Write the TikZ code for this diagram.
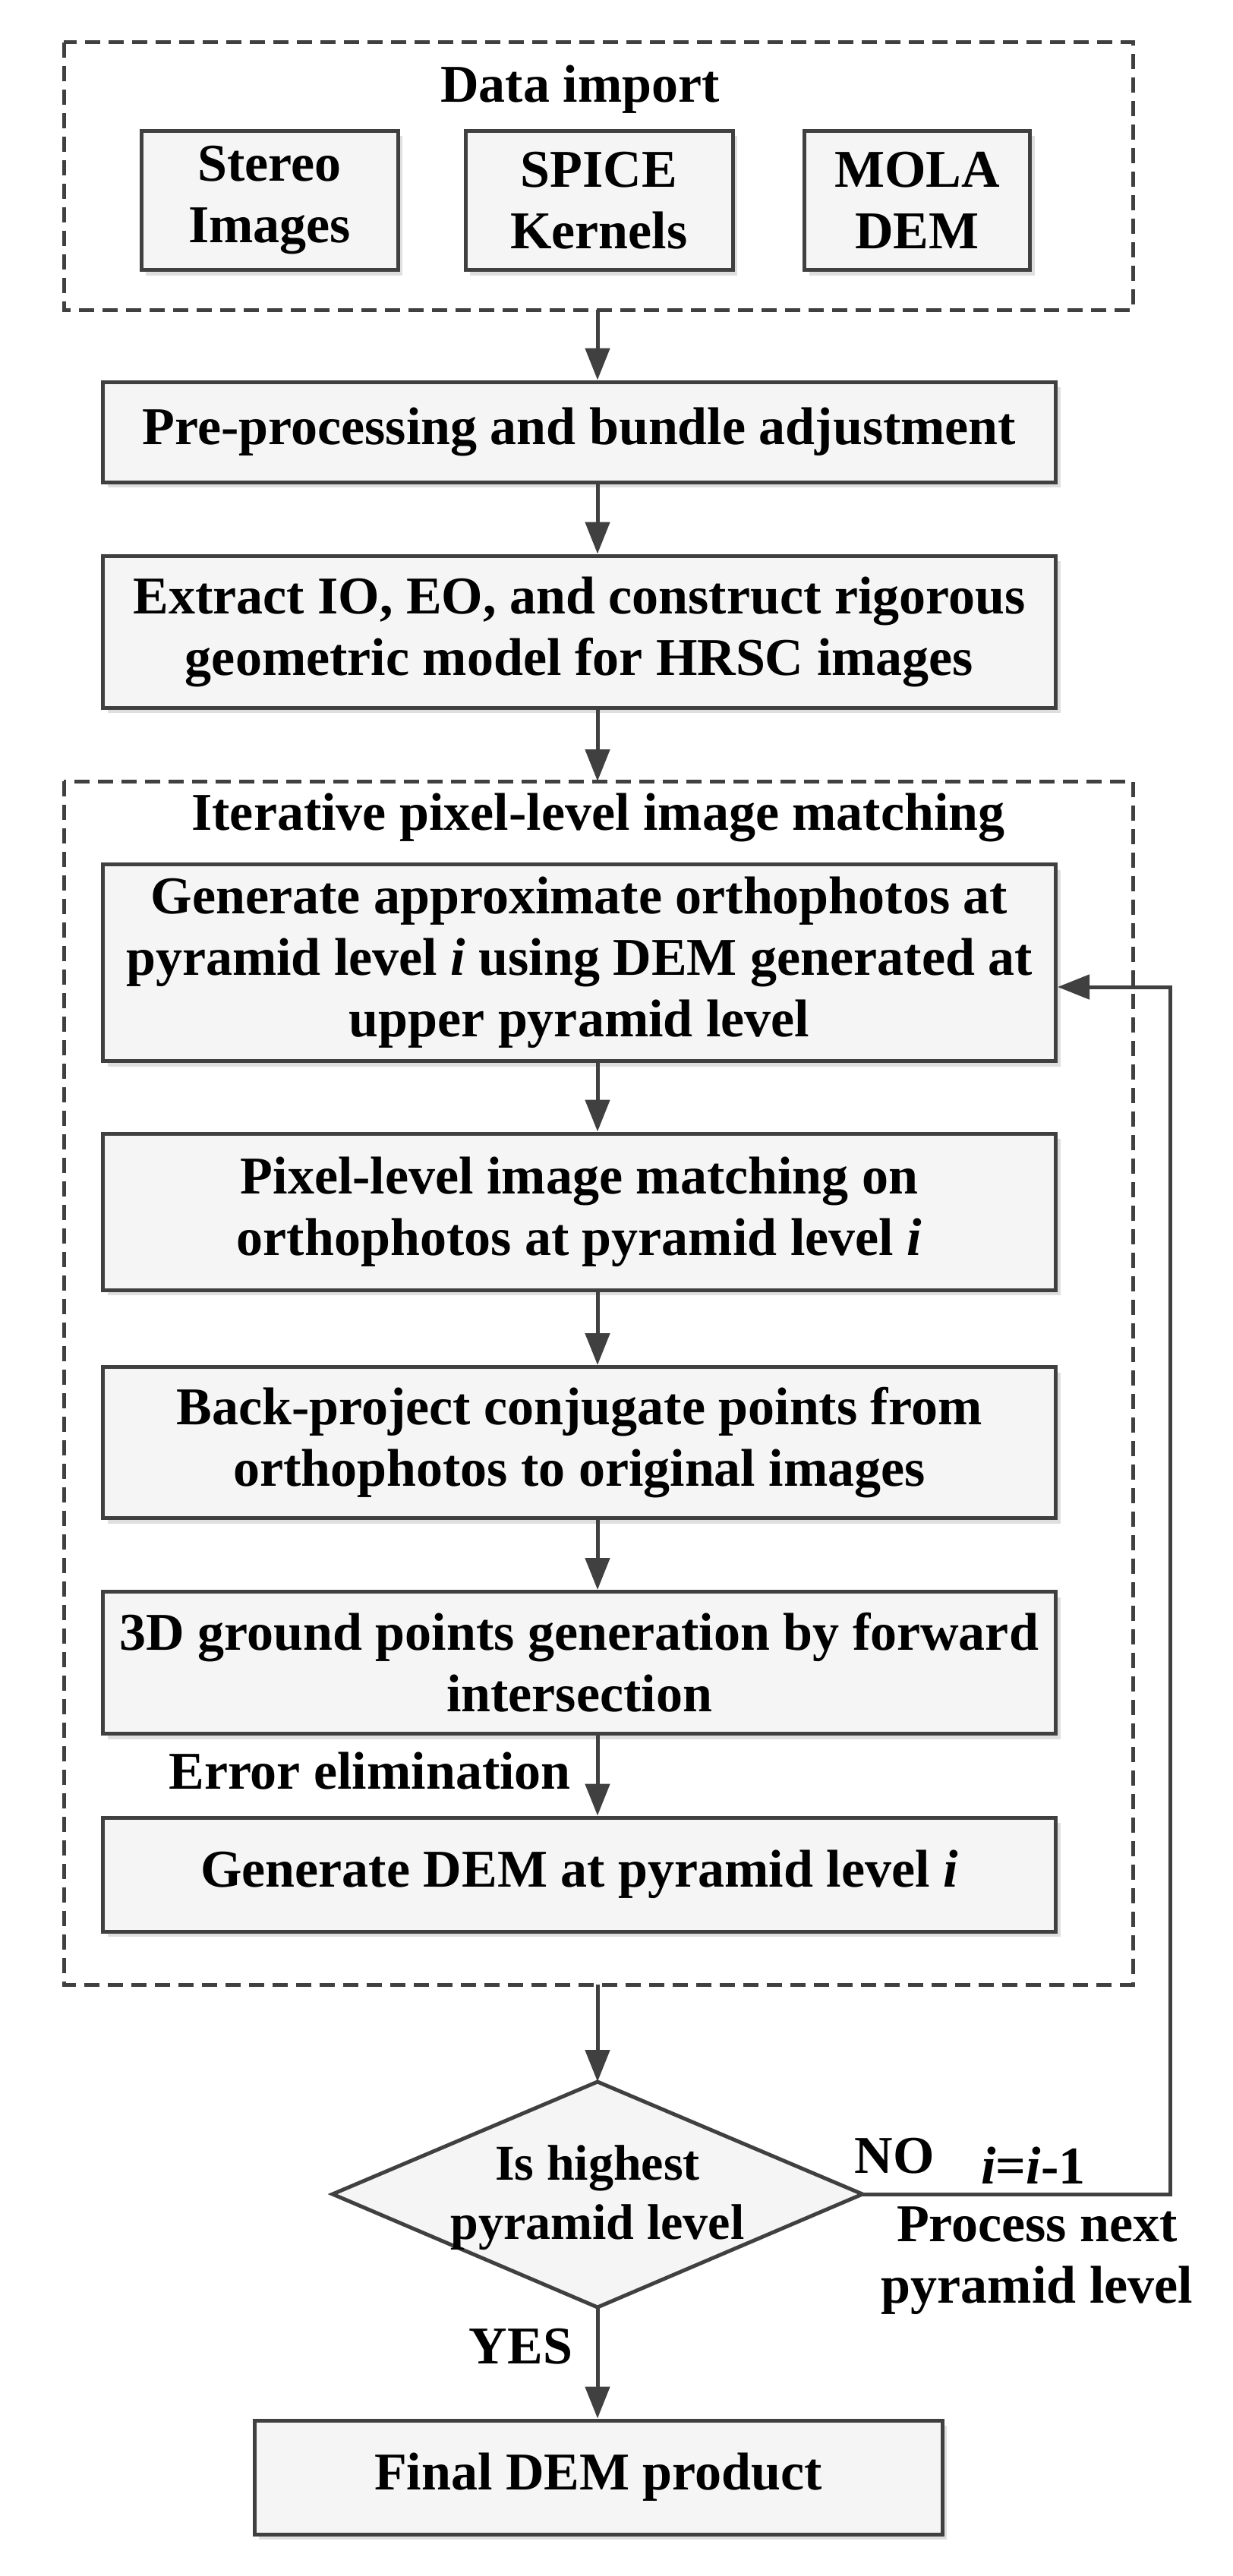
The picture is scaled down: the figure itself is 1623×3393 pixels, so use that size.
\documentclass[tikz,border=0pt]{standalone}
\usepackage{fontspec}
\setmainfont{Liberation Serif}
\usetikzlibrary{shapes.geometric,arrows.meta,shadows}
\begin{document}
\begin{tikzpicture}[x=1pt,y=-1pt,
  every node/.style={font=\fontsize{70}{81}\selectfont\bfseries},
  box/.style={draw=black!75,line width=5pt,fill=gray!8,drop shadow={shadow xshift=6pt,shadow yshift=-7pt,opacity=0.25},align=center,inner sep=0pt},
  dbox/.style={draw=black!75,line width=5pt,dash pattern=on 20pt off 11pt},
  arr/.style={draw=black!75,line width=5pt,-{Triangle[length=42pt,width=32pt]}},
  lbl/.style={inner sep=0pt,align=center}]
\useasboundingbox (0,0) rectangle (1623,3393);
% data import
\draw[dbox] (84,56) rectangle (1492,408);
\node[lbl] (dt) at (764,118) {Data import};
\node[box,minimum width=338pt,minimum height=183pt] (st) at (355,264) {Stereo\\Images};
\node[box,minimum width=352pt,minimum height=183pt] (sp) at (789,264) {SPICE\\Kernels};
\node[box,minimum width=297pt,minimum height=183pt] (mo) at (1208,264) {MOLA\\DEM};
\coordinate (d1) at (787,408);
\node[box,minimum width=1255pt,minimum height=132pt] (pp) at (763,569) {Pre-processing and bundle adjustment};
\node[box,minimum width=1255pt,minimum height=200pt] (ex) at (763,832) {Extract IO, EO, and construct rigorous\\geometric model for HRSC images};
% iterative
\draw[dbox] (84,1029) rectangle (1492,2614);
\coordinate (d2t) at (787,1029);
\coordinate (d2b) at (787,2614);
\node[lbl] (it) at (788,1077) {Iterative pixel-level image matching};
\node[box,minimum width=1255pt,minimum height=259pt] (g1) at (763,1268) {Generate approximate orthophotos at\\pyramid level \textit{i} using DEM generated at\\upper pyramid level};
\node[box,minimum width=1255pt,minimum height=206pt] (g2) at (763,1596) {Pixel-level image matching on\\orthophotos at pyramid level \textit{i}};
\node[box,minimum width=1255pt,minimum height=199pt] (g3) at (763,1900) {Back-project conjugate points from\\orthophotos to original images};
\node[box,minimum width=1255pt,minimum height=187pt] (g4) at (763,2190) {3D ground points generation by forward\\intersection};
\node[lbl,anchor=east] (ee) at (752,2333) {Error elimination};
\node[box,minimum width=1255pt,minimum height=150pt] (g5) at (763,2469) {Generate DEM at pyramid level \textit{i}};
% decision diamond
\coordinate (dmn) at (787,2742);
\coordinate (dms) at (787,3039);
\coordinate (dmw) at (438,2890);
\coordinate (dme) at (1136,2890);
\draw[draw=black!75,line width=5pt,fill=gray!8,line join=miter] (dmn) -- (dme) -- (dms) -- (dmw) -- cycle;
\node[lbl,font=\fontsize{66}{78}\selectfont\bfseries] (dm) at (787,2895) {Is highest\\pyramid level};
\node[box,minimum width=906pt,minimum height=150pt] (fi) at (788,3263) {Final DEM product};
\coordinate (lp) at (1541,2890);
\coordinate (lq) at (1541,1300);
\node[lbl] (no) at (1178,2840) {NO};
\node[lbl] (ii) at (1361,2852) {\textit{i}=\textit{i}-1};
\node[lbl] (pn) at (1366,2978) {Process next\\pyramid level};
\node[lbl] (ys) at (686,3091) {YES};
% connectors
\draw[arr] (d1) -- (d1 |- pp.north);
\draw[arr] (d1 |- pp.south) -- (d1 |- ex.north);
\draw[arr] (d1 |- ex.south) -- (d2t);
\draw[arr] (d1 |- g1.south) -- (d1 |- g2.north);
\draw[arr] (d1 |- g2.south) -- (d1 |- g3.north);
\draw[arr] (d1 |- g3.south) -- (d1 |- g4.north);
\draw[arr] (d1 |- g4.south) -- (d1 |- g5.north);
\draw[arr] (d2b) -- (dmn);
\draw[arr] (dms) -- (dms |- fi.north);
\draw[arr] (dme) -- (lp) -- (lq) -- (lq -| g1.east);
\end{tikzpicture}
\end{document}
